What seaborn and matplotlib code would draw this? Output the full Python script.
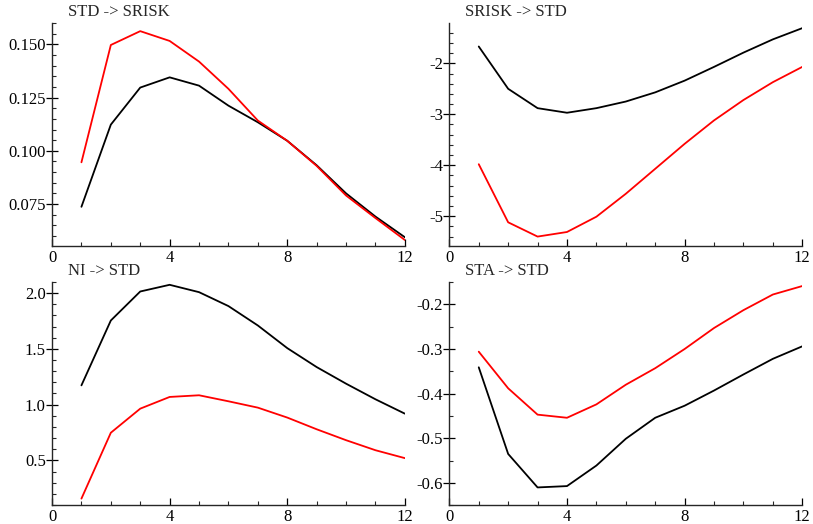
# Impulse responses: four panels, two series each (black / red)

import matplotlib
matplotlib.use("Agg")
import matplotlib.pyplot as plt
from matplotlib.ticker import MultipleLocator
import seaborn as sns
import pandas as pd

horizon = list(range(1, 13))

titles = ["STD -> SRISK", "SRISK -> STD", "NI -> STD", "STA -> STD"]

std_srisk_black = [0.0737, 0.1123, 0.1297, 0.1345, 0.1306, 0.1212, 0.1134, 0.1047, 0.0932, 0.0800, 0.0691, 0.0594]
std_srisk_red = [0.0946, 0.1497, 0.1562, 0.1516, 0.1419, 0.1291, 0.1142, 0.1047, 0.0929, 0.0790, 0.0684, 0.0581]

srisk_std_black = [-1.67, -2.50, -2.88, -2.97, -2.88, -2.75, -2.57, -2.34, -2.07, -1.79, -1.53, -1.31]
srisk_std_red = [-3.98, -5.12, -5.40, -5.31, -5.01, -4.56, -4.07, -3.58, -3.12, -2.72, -2.37, -2.07]

ni_std_black = [1.173, 1.755, 2.015, 2.075, 2.009, 1.884, 1.710, 1.507, 1.337, 1.188, 1.048, 0.919]
ni_std_red = [0.157, 0.748, 0.964, 1.069, 1.084, 1.030, 0.973, 0.884, 0.779, 0.681, 0.591, 0.520]

sta_std_black = [-0.341, -0.535, -0.610, -0.607, -0.561, -0.501, -0.454, -0.427, -0.393, -0.357, -0.322, -0.294]
sta_std_red = [-0.306, -0.388, -0.447, -0.454, -0.424, -0.380, -0.343, -0.300, -0.253, -0.213, -0.178, -0.159]

panels = [
    (std_srisk_black, std_srisk_red, (0.0554, 0.160), 0.025, 0.005, "{:.3f}"),
    (srisk_std_black, srisk_std_red, (-5.58, -1.21), 1.0, 0.2, "{:.0f}"),
    (ni_std_black, ni_std_red, (0.097, 2.10), 0.5, 0.1, "{:.1f}"),
    (sta_std_black, sta_std_red, (-0.65, -0.15), 0.1, 0.05, "{:.1f}"),
]

# axes boxes in figure fractions [left, bottom, width, height]
boxes = [
    [0.064, 0.531, 0.434, 0.425],
    [0.5527, 0.531, 0.4341, 0.425],
    [0.064, 0.0357, 0.434, 0.4261],
    [0.5527, 0.0357, 0.4341, 0.4261],
]

sns.set_theme(style="ticks")
plt.rcParams['font.family'] = ['Liberation Serif', 'DejaVu Serif']
plt.rcParams['axes.linewidth'] = 1.0

fig = plt.figure(figsize=(8.13, 5.24), dpi=100)

for title, (black, red, ylim, major, minor, fmt), box in zip(titles, panels, boxes):
    ax = fig.add_axes(box)
    df = pd.DataFrame({
        "h": horizon * 2,
        "value": black + red,
        "series": ["black"] * 12 + ["red"] * 12,
    })
    sns.lineplot(data=df, x="h", y="value", hue="series",
                 palette={"black": "#000000", "red": "#ff0000"},
                 linewidth=1.3, legend=False, ax=ax)
    ax.set_xlim(0, 12)
    ax.set_ylim(*ylim)
    ax.set_xlabel("")
    ax.set_ylabel("")
    ax.xaxis.set_major_locator(MultipleLocator(4))
    ax.xaxis.set_minor_locator(MultipleLocator(1))
    ax.yaxis.set_major_locator(MultipleLocator(major))
    ax.yaxis.set_minor_locator(MultipleLocator(minor))
    ax.yaxis.set_major_formatter(plt.FuncFormatter(lambda v, p, f=fmt: f.format(v)))
    sns.despine(ax=ax)
    ax.tick_params(axis="y", which="major", direction="inout", length=9, width=0.9,
                   labelsize=12, pad=0, colors="black")
    ax.tick_params(axis="x", which="major", direction="in", length=5, width=0.9,
                   labelsize=12, pad=3, colors="black")
    ax.tick_params(which="minor", direction="in", length=3, width=0.8)
    ax.text(0.045, 1.012, title, transform=ax.transAxes, fontsize=12,
            ha="left", va="bottom")

plt.savefig("out.png", dpi=100)
